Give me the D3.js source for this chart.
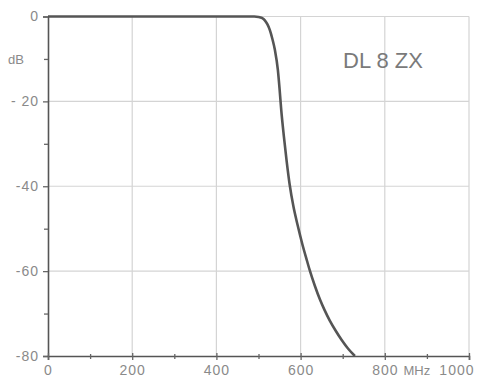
<!DOCTYPE html>
<html><head><meta charset="utf-8">
<script src="https://cdn.jsdelivr.net/npm/d3@7"></script>
<style>html,body{margin:0;padding:0;background:#fff;overflow:hidden}</style>
</head><body>
<svg id="c" width="479" height="377"></svg>
<script>
const freqMHz = [0, 200, 400, 470, 490, 500, 508, 515, 521, 527, 533, 539, 546, 550, 554, 560, 567, 574, 583, 593, 604, 615, 622, 634, 646, 657, 669, 683, 698, 713, 729];
const attenDb = [0, 0, 0, 0, 0, -0.1, -0.35, -0.9, -1.8, -3.2, -5.3, -7.9, -12.6, -17, -22, -28, -34.2, -39.6, -44.8, -49.2, -53.6, -57.5, -59.9, -63.5, -66.7, -69.2, -71.6, -74, -76.3, -78.3, -80];
const xMajorTicks = [0, 200, 400, 600, 800, 1000];
const xMinorTicks = [100, 300, 500, 700, 900];
const xTickLabels = ["0", "200", "400", "600", "800", "1000"];
const yMajorTicks = [0, -20, -40, -60, -80];
const yMinorTicks = [-10, -30, -50, -70];
const yTickLabels = ["0", "- 20", "-40", "-60", "-80"];
const titleText = "DL 8 ZX";

const svg = d3.select("#c");
const x = d3.scaleLinear().domain([0, 1000]).range([48, 469]);
const y = d3.scaleLinear().domain([0, -80]).range([16.5, 356]);
const labelColor = "#8a8a8a";
const font = "'Liberation Sans', Arial, sans-serif";

// gridlines
const g = svg.append("g");
g.selectAll("line.v").data(xMajorTicks.slice(1)).join("line")
  .attr("x1", d => x(d)).attr("x2", d => x(d)).attr("y1", y(0)).attr("y2", y(-80))
  .attr("stroke", "#d4d4d4").attr("stroke-width", 1.2);
g.selectAll("line.h").data(yMajorTicks.slice(0, -1)).join("line")
  .attr("x1", x(0)).attr("x2", x(1000)).attr("y1", d => y(d)).attr("y2", d => y(d))
  .attr("stroke", "#d4d4d4").attr("stroke-width", 1.2);

// left axis
const yAxis = d3.axisLeft(y).tickValues(yMajorTicks).tickSize(5).tickPadding(4)
  .tickFormat((d, i) => yTickLabels[i]);
const ya = svg.append("g").attr("transform", `translate(${x(0)},0)`).call(yAxis);
ya.select(".domain").attr("stroke", "#555").attr("stroke-width", 1.6);
ya.selectAll(".tick line").attr("stroke", "#666").attr("stroke-width", 1.3);
ya.selectAll(".tick text").attr("fill", labelColor).style("font-family", font)
  .style("font-size", "14px").style("letter-spacing", "1px");
const yMinor = d3.axisLeft(y).tickValues(yMinorTicks).tickSize(4).tickFormat("");
const ym = svg.append("g").attr("transform", `translate(${x(0)},0)`).call(yMinor);
ym.select(".domain").remove();
ym.selectAll(".tick line").attr("stroke", "#666").attr("stroke-width", 1.3);

// bottom axis
const xAxis = d3.axisBottom(x).tickValues(xMajorTicks).tickSize(4).tickFormat((d, i) => xTickLabels[i]);
const xa = svg.append("g").attr("transform", `translate(0,${y(-80)})`).call(xAxis);
xa.select(".domain").attr("stroke", "#555").attr("stroke-width", 1.6);
xa.selectAll(".tick line").attr("stroke", "#666").attr("stroke-width", 1.3).attr("y1", -3);
xa.selectAll(".tick text").attr("fill", labelColor).style("font-family", font)
  .style("font-size", "14px").style("letter-spacing", "1px")
  .attr("y", 18.5).attr("dy", null);
xa.selectAll(".tick text").filter(d => d === 1000).attr("text-anchor", "end").attr("x", 5);
const xMinor = d3.axisBottom(x).tickValues(xMinorTicks).tickSize(3).tickFormat("");
const xm = svg.append("g").attr("transform", `translate(0,${y(-80)})`).call(xMinor);
xm.select(".domain").remove();
xm.selectAll(".tick line").attr("stroke", "#666").attr("stroke-width", 1.3).attr("y1", -2);

// unit labels
svg.append("text").attr("x", x(876)).attr("y", y(-80) + 18.5).attr("text-anchor", "middle")
  .attr("fill", labelColor).style("font-family", font).style("font-size", "13px").text("MHz");
svg.append("text").attr("x", 8).attr("y", y(-10) + 5).attr("fill", labelColor)
  .style("font-family", font).style("font-size", "13px").text("dB");

// title
svg.append("text").attr("x", 343).attr("y", 68).attr("fill", "#7a7a7a")
  .style("font-family", font).style("font-size", "22px").text(titleText);

// curve
const line = d3.line().x((d, i) => x(freqMHz[i])).y((d, i) => y(attenDb[i])).curve(d3.curveMonotoneX);
svg.append("path").datum(attenDb).attr("d", line).attr("fill", "none")
  .attr("stroke", "#555").attr("stroke-width", 2.6).attr("stroke-linejoin", "round");
</script>
</body></html>
